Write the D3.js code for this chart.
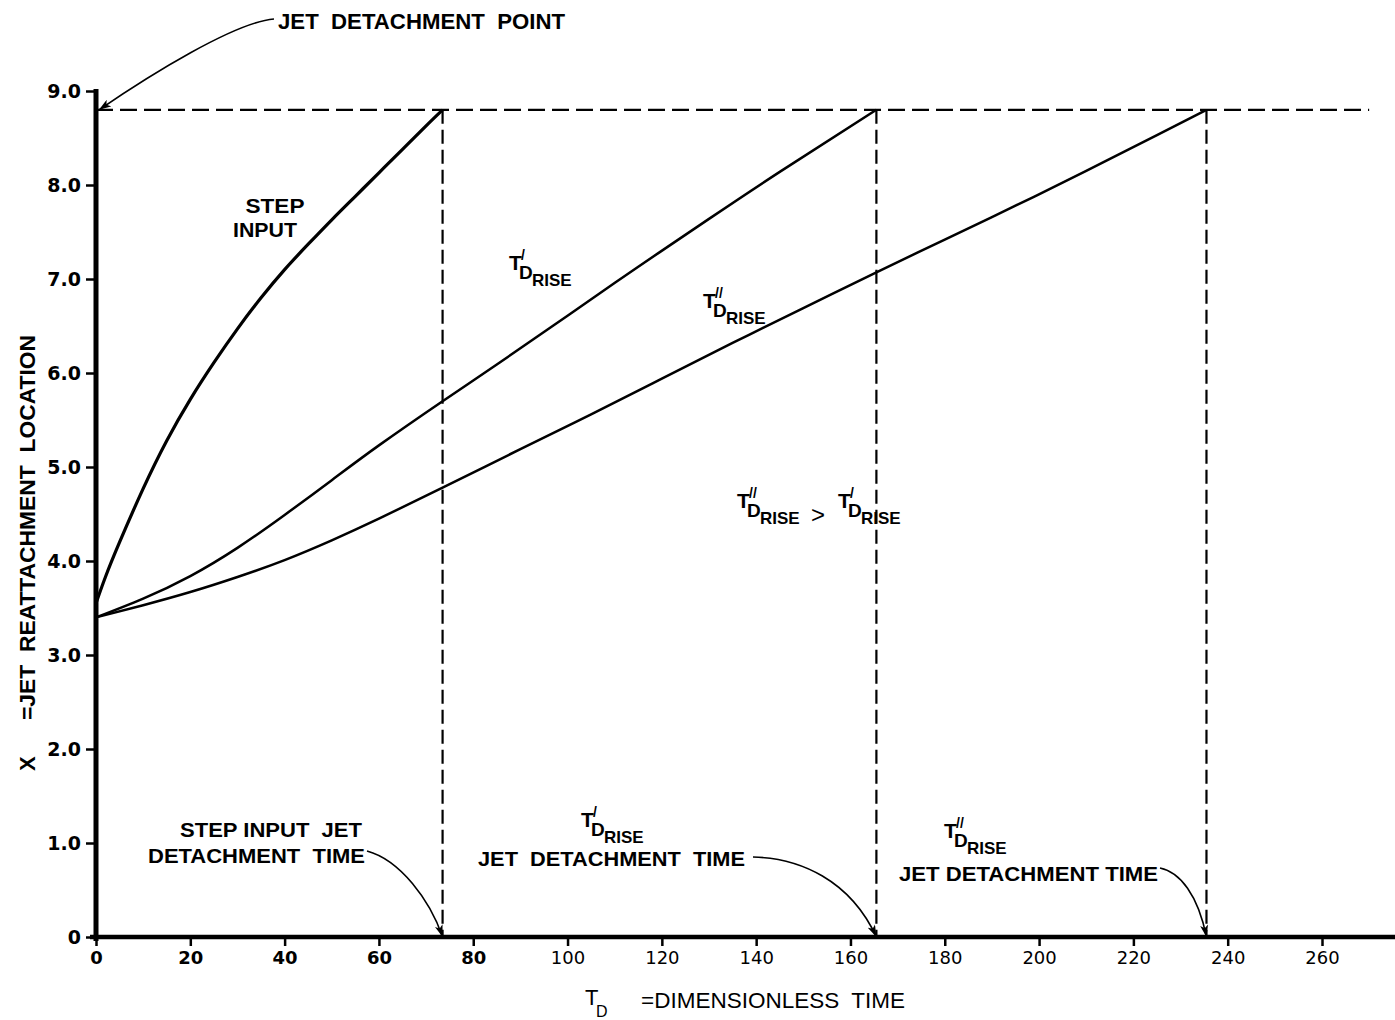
<!DOCTYPE html>
<html>
<head>
<meta charset="utf-8">
<script src="https://cdn.jsdelivr.net/npm/d3@7"></script>
<style>
  body { margin: 0; background: #fff; }
  svg { display: block; }
</style>
</head>
<body>
<svg id="chart" width="1395" height="1020"></svg>
<script>
// ---- data ----
const xTicks = [0, 20, 40, 60, 80, 100, 120, 140, 160, 180, 200, 220, 240, 260];
const yTicks = [0, 1, 2, 3, 4, 5, 6, 7, 8, 9];
const yTickLabels = ["0", "1.0", "2.0", "3.0", "4.0", "5.0", "6.0", "7.0", "8.0", "9.0"];

// jet detachment point on the X axis, and the detachment time of each input
const detachLevel = 8.8;
const detachTimes = [73.5, 165.5, 235.5];

// step input
const stepT = [0, 2, 5, 10, 15, 20, 25, 30, 35, 40, 45, 50, 55, 60, 65, 70, 73.5];
const stepX = [3.55, 3.83, 4.20, 4.77, 5.28, 5.72, 6.11, 6.47, 6.80, 7.10, 7.37, 7.63, 7.88, 8.13, 8.38, 8.63, 8.8];

// T'D rise
const rise1T = [0, 10, 20, 30, 40, 50, 60, 73.5, 85, 100, 115, 130, 145, 165.5];
const rise1X = [3.4, 3.60, 3.84, 4.14, 4.49, 4.86, 5.23, 5.70, 6.09, 6.61, 7.13, 7.64, 8.14, 8.8];

// T''D rise
const rise2T = [0, 10, 20, 30, 40, 50, 60, 73.5, 90, 105, 120, 135, 150, 165.5, 180, 195, 210, 225, 235.5];
const rise2X = [3.4, 3.53, 3.67, 3.83, 4.01, 4.22, 4.45, 4.78, 5.19, 5.56, 5.94, 6.32, 6.69, 7.07, 7.42, 7.78, 8.15, 8.53, 8.8];

// ---- setup ----
const svg = d3.select("#chart");
const F = "'Liberation Sans', Arial, sans-serif";
const FD = "'DejaVu Sans', sans-serif";

const x = d3.scaleLinear().domain([0, 260]).range([96, 1322]);
const y = d3.scaleLinear().domain([0, 9]).range([937, 91]);

// arrowhead
svg.append("defs").append("marker")
  .attr("id", "head")
  .attr("viewBox", "0 0 12 8")
  .attr("refX", 12).attr("refY", 4)
  .attr("markerWidth", 13).attr("markerHeight", 8)
  .attr("markerUnits", "userSpaceOnUse")
  .attr("orient", "auto")
  .append("path").attr("d", "M0,0 L12,4 L0,8 L3,4 Z").attr("fill", "#000");

// ---- axes ----
const yAxis = svg.append("g")
  .attr("transform", `translate(${x(0)},0)`)
  .call(d3.axisLeft(y).tickValues(yTicks).tickSize(10).tickSizeOuter(0).tickPadding(5)
    .tickFormat((d, i) => yTickLabels[i]));
yAxis.select(".domain").remove();
yAxis.selectAll(".tick line").attr("stroke", "#000").attr("stroke-width", 2.5);
yAxis.selectAll(".tick text")
  .attr("font-family", FD).attr("font-weight", "bold").attr("font-size", 19).attr("fill", "#000");

const xAxis = svg.append("g")
  .attr("transform", `translate(0,${y(0)})`)
  .call(d3.axisBottom(x).tickValues(xTicks).tickSize(9).tickSizeOuter(0).tickPadding(5)
    .tickFormat(d3.format("d")));
xAxis.select(".domain").remove();
xAxis.selectAll(".tick line").attr("stroke", "#000").attr("stroke-width", 2.5);
xAxis.selectAll(".tick text")
  .attr("font-family", FD).attr("font-size", 18).attr("fill", "#000")
  .attr("font-weight", d => d <= 80 ? "bold" : "normal");

// axis lines
svg.append("line")
  .attr("x1", x(0)).attr("x2", x(0))
  .attr("y1", y(0) + 4).attr("y2", y(9) - 2)
  .attr("stroke", "#000").attr("stroke-width", 5);
svg.append("line")
  .attr("x1", x(0) - 6).attr("x2", 1395)
  .attr("y1", y(0)).attr("y2", y(0))
  .attr("stroke", "#000").attr("stroke-width", 4.5);

// ---- dashed detachment guides ----
svg.append("line")
  .attr("x1", x(0)).attr("x2", x(270))
  .attr("y1", y(detachLevel)).attr("y2", y(detachLevel))
  .attr("stroke", "#000").attr("stroke-width", 2.2)
  .attr("stroke-dasharray", "17,7");
svg.selectAll(".vguide").data(detachTimes).enter().append("line")
  .attr("class", "vguide")
  .attr("x1", d => x(d)).attr("x2", d => x(d))
  .attr("y1", y(detachLevel)).attr("y2", y(0))
  .attr("stroke", "#000").attr("stroke-width", 2.2)
  .attr("stroke-dasharray", "14,6");

// ---- curves ----
const line = d3.line().x(d => x(d[0])).y(d => y(d[1])).curve(d3.curveNatural);
const series = [
  { t: stepT, v: stepX, w: 3.2 },
  { t: rise1T, v: rise1X, w: 2.5 },
  { t: rise2T, v: rise2X, w: 2.5 }
];
svg.selectAll(".curve").data(series).enter().append("path")
  .attr("class", "curve")
  .attr("d", s => line(s.t.map((t, i) => [t, s.v[i]])))
  .attr("fill", "none").attr("stroke", "#000").attr("stroke-width", s => s.w)
  .attr("stroke-linejoin", "round");

// ---- text helpers ----
function label(txt, x0, b, opts = {}) {
  const t = svg.append("text")
    .attr("x", x0).attr("y", b)
    .attr("font-family", F)
    .attr("font-weight", opts.weight || "bold")
    .attr("font-size", opts.size || 21)
    .attr("text-anchor", opts.anchor || "start")
    .attr("fill", "#000")
    .style("white-space", "pre")
    .text(txt);
  if (opts.width) t.attr("textLength", opts.width).attr("lengthAdjust", "spacingAndGlyphs");
  return t;
}

// T with primes and D / RISE subscripts, set as one text element
function riseLabel(x0, b, primes) {
  const t = svg.append("text").attr("font-family", F).attr("font-weight", "bold").attr("fill", "#000");
  t.append("tspan").attr("x", x0).attr("y", b).attr("font-size", 21).text("T");
  t.append("tspan").attr("x", x0 + 12).attr("y", b - 10).attr("font-size", 14)
    .text(primes === 2 ? "//" : "/");
  t.append("tspan").attr("x", x0 + 10).attr("y", b + 9).attr("font-size", 19).text("D");
  t.append("tspan").attr("x", x0 + 23).attr("y", b + 16).attr("font-size", 17).text("RISE");
}

function arrow(p0, c1, c2, p1) {
  svg.append("path")
    .attr("d", `M${p0[0]},${p0[1]} C${c1[0]},${c1[1]} ${c2[0]},${c2[1]} ${p1[0]},${p1[1]}`)
    .attr("fill", "none").attr("stroke", "#000").attr("stroke-width", 1.6)
    .attr("marker-end", "url(#head)");
}

// ---- annotations ----
label("JET  DETACHMENT  POINT", 278, 29, { size: 22, width: 287 });
arrow([274, 19], [235, 22], [150, 75], [x(0) + 3, y(detachLevel)]);

label("STEP", 275, 213, { anchor: "middle", width: 59 });
label("INPUT", 265, 237, { anchor: "middle", width: 64 });

riseLabel(509, 270, 1);
riseLabel(703, 308, 2);

riseLabel(737, 508, 2);
label(">", 811, 523, { size: 24, weight: "normal" });
riseLabel(838, 508, 1);

label("STEP INPUT  JET", 180, 837, { width: 182 });
label("DETACHMENT  TIME", 148, 863, { width: 217 });
arrow([367, 851], [400, 860], [430, 900], [x(detachTimes[0]), y(0)]);

riseLabel(581, 827, 1);
label("JET  DETACHMENT  TIME", 478, 866, { width: 267 });
arrow([753, 857], [800, 858], [850, 880], [x(detachTimes[1]), y(0)]);

riseLabel(944, 838, 2);
label("JET DETACHMENT TIME", 899, 881, { width: 259 });
arrow([1160, 868], [1180, 872], [1198, 895], [x(detachTimes[2]), y(0)]);

// axis titles
const xt = svg.append("text").attr("font-family", F).attr("fill", "#000");
xt.append("tspan").attr("x", 585).attr("y", 1005).attr("font-size", 22).text("T");
xt.append("tspan").attr("x", 596).attr("y", 1017).attr("font-size", 16).text("D");
label("=DIMENSIONLESS  TIME", 641, 1008, { width: 264, weight: "normal", size: 22 });

svg.append("text")
  .attr("transform", "translate(35,771) rotate(-90)")
  .attr("font-family", F).attr("font-weight", "bold").attr("font-size", 22).attr("fill", "#000")
  .text("X");
svg.append("text")
  .attr("transform", "translate(35,720) rotate(-90)")
  .attr("font-family", F).attr("font-weight", "bold").attr("font-size", 22).attr("fill", "#000")
  .attr("textLength", 385).attr("lengthAdjust", "spacingAndGlyphs")
  .style("white-space", "pre")
  .text("=JET  REATTACHMENT  LOCATION");
</script>
</body>
</html>
